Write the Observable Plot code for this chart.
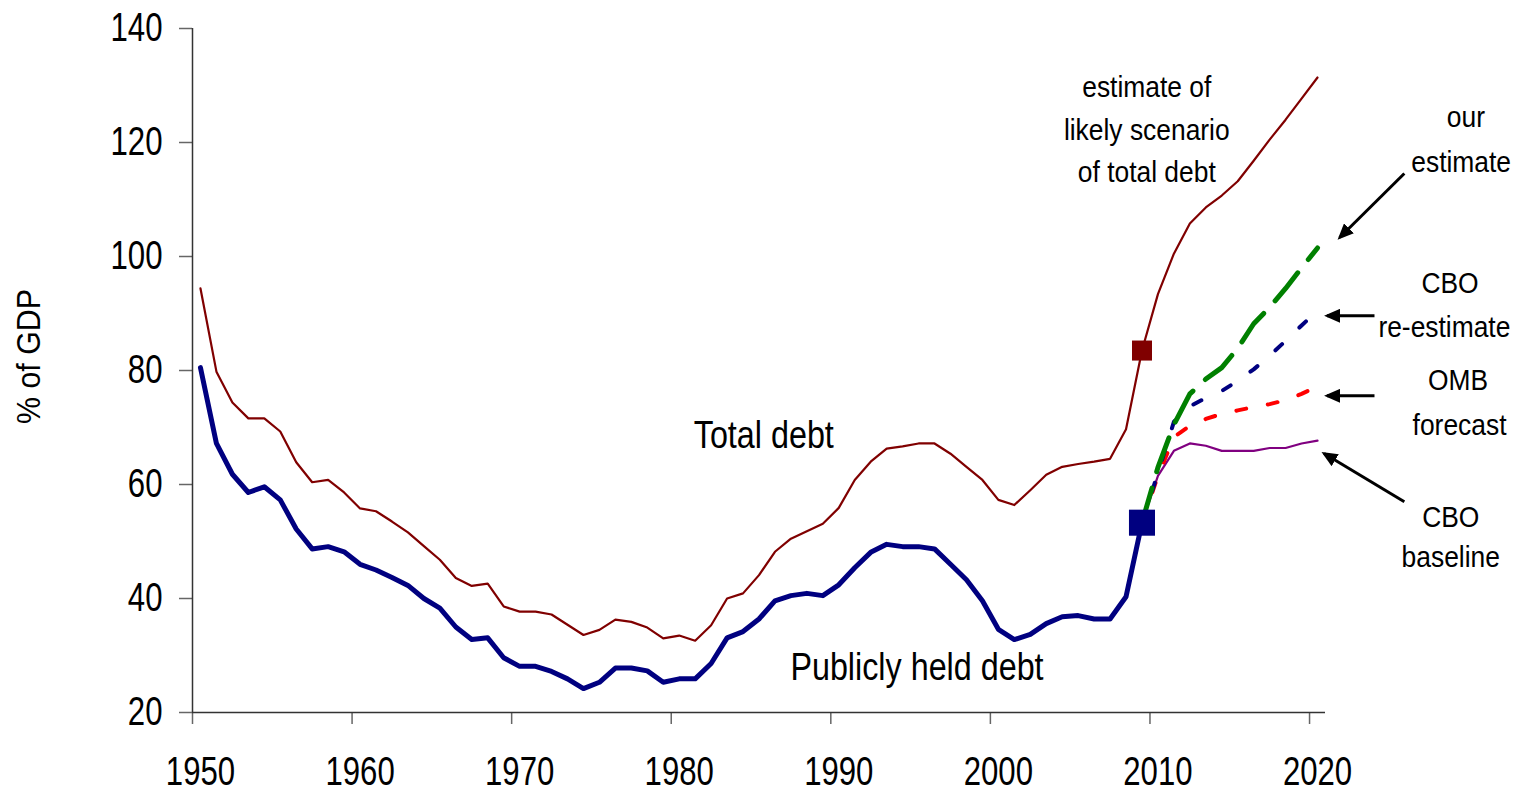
<!DOCTYPE html>
<html>
<head>
<meta charset="utf-8">
<script src="https://cdn.jsdelivr.net/npm/d3@7"></script>
<script src="https://cdn.jsdelivr.net/npm/@observablehq/plot@0.6"></script>
<style>
  html, body { margin: 0; padding: 0; background: #fff; }
  #chart svg { display: block; }
</style>
</head>
<body>
<div id="chart"></div>
<script>
// ---------- data ----------
const histYears = d3.range(1950, 2021); // categories 1950..2020
const totalDebt = [
  94.4, 79.8, 74.4, 71.6, 71.6, 69.3, 63.9, 60.4, 60.8, 58.6,
  55.8, 55.3, 53.5, 51.6, 49.2, 46.8, 43.6, 42.2, 42.6, 38.6,
  37.7, 37.7, 37.2, 35.4, 33.6, 34.5, 36.3, 35.9, 34.9, 33.0,
  33.5, 32.6, 35.3, 40.0, 40.9, 44.1, 48.2, 50.5, 51.8, 53.1,
  55.9, 60.8, 64.0, 66.3, 66.7, 67.2, 67.2, 65.4, 63.1, 60.8,
  57.3, 56.4, 59.0, 61.7, 63.1, 63.6, 64.0, 64.5, 69.7, 83.5,
  93.4, 100.5, 105.8, 108.6, 110.7, 113.2, 116.8, 120.5, 124.0, 127.7,
  131.4
];
const publicDebt = [
  80.5, 67.2, 61.8, 58.6, 59.6, 57.3, 52.2, 48.7, 49.1, 48.2,
  46.0, 45.0, 43.7, 42.3, 40.0, 38.3, 35.0, 32.8, 33.1, 29.6,
  28.1, 28.1, 27.2, 25.9, 24.2, 25.3, 27.8, 27.8, 27.3, 25.3,
  25.9, 25.9, 28.6, 33.1, 34.2, 36.4, 39.6, 40.5, 40.9, 40.5,
  42.4, 45.4, 48.1, 49.5, 49.1, 49.1, 48.7, 46.0, 43.3, 39.6,
  34.6, 32.8, 33.7, 35.6, 36.8, 37.0, 36.4, 36.4, 40.3, 53.3
];
const projYears     = [2009, 2010, 2011, 2012, 2013, 2014, 2015, 2016, 2017, 2018, 2019, 2020];
const cboBaseline   = [53.3, 61.5, 65.9, 67.2, 66.8, 65.9, 65.9, 65.9, 66.4, 66.4, 67.2, 67.7];
const ombForecast   = [53.3, 61.5, 68.3, 70.3, 71.5, 72.4, 73.0, 73.6, 74.1, 74.8, 75.9, 77.2];
const cboReestimate = [53.3, 62.0, 71.0, 73.7, 75.2, 76.4, 78.2, 80.2, 82.6, 85.2, 87.9, 90.5];
const ourEstimate   = [53.3, 63.0, 70.5, 75.9, 78.5, 80.5, 83.9, 88.2, 91.1, 94.4, 98.0, 101.5];

const markerYear = 2009;
const yTicks = [20, 40, 60, 80, 100, 120, 140];
const xTickLabels = [1950, 1960, 1970, 1980, 1990, 2000, 2010, 2020];
const yTitle = "% of GDP";

// labels (anchored in data units)
const bigLabels = [
  {text: "Total debt", year: 1985.3, v: 68.5},
  {text: "Publicly held debt", year: 1994.9, v: 27.9}
];
const noteLabels = [
  {text: "estimate of", year: 2009.3, v: 129.7},
  {text: "likely scenario", year: 2009.3, v: 122.1},
  {text: "of total debt", year: 2009.3, v: 114.7},
  {text: "our", year: 2029.3, v: 124.4},
  {text: "estimate", year: 2029.0, v: 116.5},
  {text: "CBO", year: 2028.3, v: 95.2},
  {text: "re-estimate", year: 2027.95, v: 87.5},
  {text: "OMB", year: 2028.8, v: 78.3},
  {text: "forecast", year: 2028.9, v: 70.3},
  {text: "CBO", year: 2028.35, v: 54.2},
  {text: "baseline", year: 2028.35, v: 47.2}
];
const arrows = [
  {x1: 2025.44, y1: 114.56, x2: 2021.39, y2: 103.33},
  {x1: 2023.57, y1: 89.6, x2: 2020.60, y2: 89.6},
  {x1: 2023.57, y1: 75.56, x2: 2020.60, y2: 75.56},
  {x1: 2025.44, y1: 56.96, x2: 2020.41, y2: 65.44}
];

// ---------- tables ----------
const totalRows = histYears.map((year, i) => ({year, v: totalDebt[i]}));
const publicRows = publicDebt.map((v, i) => ({year: histYears[i], v}));
const proj = arr => projYears.map((year, i) => ({year, v: arr[i]}));
const mi = histYears.indexOf(markerYear);

const FONT = "'Liberation Sans', Arial, Helvetica, sans-serif";

const chart = Plot.plot({
  width: 1526,
  height: 793,
  marginLeft: 192,
  marginRight: 201,
  marginTop: 28,
  marginBottom: 81,
  x: {domain: [1949.5, 2020.5]},
  y: {domain: [20, 140]},
  style: {fontFamily: FONT, background: "#fff", color: "#000", overflow: "visible"},
  marks: [
    Plot.axisY({ticks: yTicks, tickSize: 13, tickPadding: 17, fontSize: 40, stroke: "#666", strokeWidth: 1.5, fill: "#000", label: null}),
    Plot.axisX({ticks: xTickLabels.map(d => d - 0.5), tickSize: 12, tickFormat: () => "", stroke: "#666", strokeWidth: 1.5, label: null}),
    Plot.axisX({ticks: xTickLabels, tickSize: 0, tickPadding: 43, fontSize: 41, tickFormat: d => String(d), fill: "#000", label: null}),
    Plot.ruleX([1949.5], {y1: 20, y2: 140, stroke: "#333", strokeWidth: 1.5}),
    Plot.ruleY([20], {x1: 1949.5, x2: 2020.5, stroke: "#333", strokeWidth: 1.5}),

    Plot.line(proj(cboBaseline), {x: "year", y: "v", stroke: "#800080", strokeWidth: 2.2, strokeLinejoin: "round"}),
    Plot.line(proj(ombForecast), {x: "year", y: "v", stroke: "#ff0000", strokeWidth: 4, strokeDasharray: "10,22"}),
    Plot.line(proj(cboReestimate), {x: "year", y: "v", stroke: "#000080", strokeWidth: 4, strokeDasharray: "9,24"}),
    Plot.line(proj(ourEstimate), {x: "year", y: "v", stroke: "#008000", strokeWidth: 5, strokeDasharray: "36,17"}),

    Plot.line(totalRows, {x: "year", y: "v", stroke: "#800000", strokeWidth: 2.2, strokeLinejoin: "round"}),
    Plot.line(publicRows, {x: "year", y: "v", stroke: "#000080", strokeWidth: 5, strokeLinejoin: "round", strokeLinecap: "round"}),

    Plot.dot([{year: markerYear, v: totalDebt[mi]}], {x: "year", y: "v", symbol: "square", r: 11.3, fill: "#800000"}),
    Plot.dot([{year: markerYear, v: publicDebt[mi]}], {x: "year", y: "v", symbol: "square", r: 14.7, fill: "#000080"}),

    Plot.text(bigLabels, {x: "year", y: "v", text: "text", fontSize: 38, fill: "#000", textAnchor: "middle", lineAnchor: "middle"}),
    Plot.text(noteLabels, {x: "year", y: "v", text: "text", fontSize: 30, fill: "#000", textAnchor: "middle", lineAnchor: "middle"}),
    Plot.link(arrows, {x1: "x1", y1: "y1", x2: "x2", y2: "y2", stroke: "#000", strokeWidth: 3}),
    Plot.text([yTitle], {frameAnchor: "left", rotate: -90, fontSize: 33, fill: "#000", textAnchor: "middle", lineAnchor: "middle", dx: -163, dy: -14})
  ]
});

document.getElementById("chart").append(chart);

// arrowheads (filled) on the link mark
const svg = d3.select(chart);
const defs = svg.insert("defs", ":first-child");
defs.append("marker")
  .attr("id", "ahead")
  .attr("markerUnits", "userSpaceOnUse")
  .attr("viewBox", "0 0 16 14")
  .attr("refX", 13).attr("refY", 7)
  .attr("markerWidth", 16).attr("markerHeight", 14)
  .attr("orient", "auto")
  .append("path").attr("d", "M0,0L16,7L0,14Z").attr("fill", "#000");
svg.selectAll('g[aria-label="link"] path').attr("marker-end", "url(#ahead)");

// condensed look of the original lettering
const squeeze = {41: 0.76, 40: 0.78, 38: 0.85, 33: 0.92, 30: 0.88};
svg.selectAll("text").each(function () {
  if (!this.textContent) return;
  const fs = Math.round(parseFloat(getComputedStyle(this).fontSize));
  const f = squeeze[fs];
  if (!f || f === 1) return;
  const len = this.getComputedTextLength();
  this.setAttribute("textLength", (len * f).toFixed(1));
  this.setAttribute("lengthAdjust", "spacingAndGlyphs");
});
</script>
</body>
</html>
